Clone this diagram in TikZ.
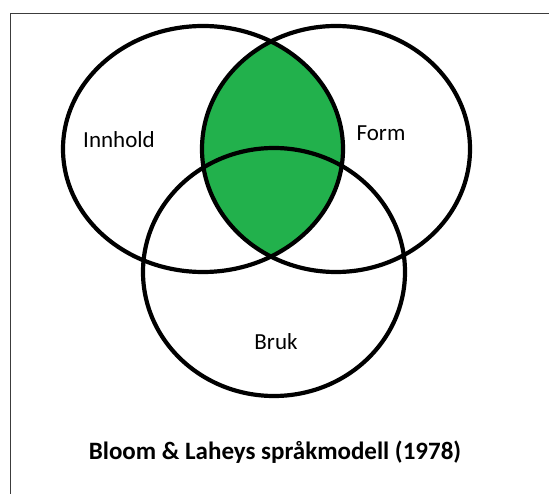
\documentclass[tikz,border=0pt]{standalone}
\usepackage{fontspec}
\setmainfont{Carlito}
\definecolor{paintgreen}{RGB}{34,177,76}
\definecolor{framegray}{RGB}{60,60,60}
\tikzset{
  vennline/.style={draw=black, line width=4.2pt},
  lbl/.style={font=\fontsize{23}{26}\selectfont, text=black, inner sep=0pt},
  ttl/.style={font=\bfseries\fontsize{25}{28}\selectfont, text=black, inner sep=0pt}
}
\begin{document}
\begin{tikzpicture}[x=1pt,y=1pt]
\useasboundingbox (0,0) rectangle (549,493);
\fill[white] (0,0) rectangle (549,493);
% frame (left and top edges visible)
\draw[framegray, line width=1.8pt] (10.5,-2) -- (10.5,479.5) -- (552,479.5);
% green intersection of the two upper ellipses
\begin{scope}
  \clip (203,344) ellipse [x radius=140, y radius=123];
  \fill[paintgreen] (336,344) ellipse [x radius=134, y radius=123];
\end{scope}
% ellipses
\draw[vennline] (203,344) ellipse [x radius=140, y radius=123];
\draw[vennline] (336,344) ellipse [x radius=134, y radius=123];
\draw[vennline] (274,221) ellipse [x radius=131, y radius=124];
% labels
\node[lbl] (innhold) at (119,353) {Innhold};
\node[lbl] (form) at (381,360) {Form};
\node[lbl] (bruk) at (276,151) {Bruk};
\node[ttl] (title) at (275,41) {Bloom \& Laheys språkmodell (1978)};
\end{tikzpicture}
\end{document}
